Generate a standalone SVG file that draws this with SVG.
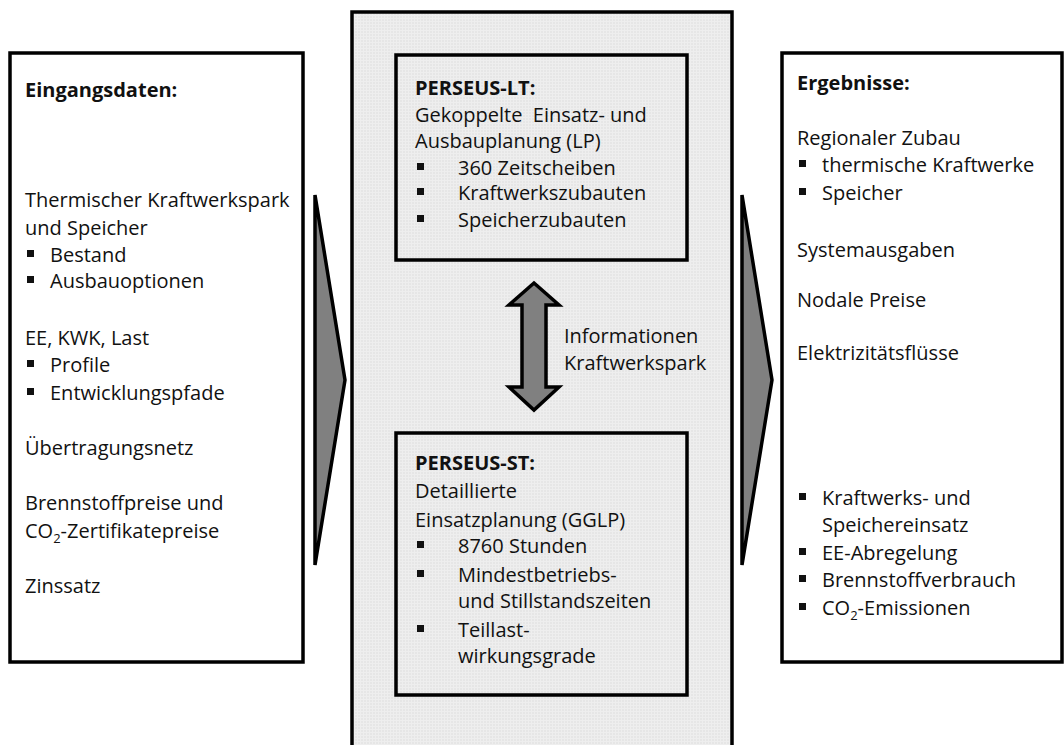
<svg xmlns="http://www.w3.org/2000/svg" width="1064" height="745" viewBox="0 0 1064 745">
<defs>
<pattern id="grid" width="3" height="3" patternUnits="userSpaceOnUse">
<rect width="3" height="3" fill="#e6e6e6"/>
<rect width="1" height="3" fill="#eeeeee"/>
<rect width="3" height="1" fill="#eeeeee"/>
</pattern>
<style>
text{font-family:"Open Sans","Liberation Sans",sans-serif;font-size:20px;fill:#111}
.b{font-weight:bold}
.box{fill:#fff;stroke:#000;stroke-width:3.5}
.inner{fill:url(#grid);stroke:#000;stroke-width:3.5}
.arr{fill:#808080;stroke:#000;stroke-width:3.5;stroke-linejoin:miter}
.sq{fill:#111}
.sub{font-size:13px}
</style>
</defs>
<g id="center">
<rect x="352" y="12" width="380" height="760" class="inner"/>
</g>
<g id="connectors">
<polygon class="arr" points="315,195 345,380 315,565"/>
<polygon class="arr" points="742,195 772,380 742,565"/>
<polygon class="arr" points="534,283 559,305 546,305 546,387 559,387 534,410 509,387 522,387 522,305 509,305"/>
</g>
<g id="info-label">
<text x="564" y="343">Informationen</text>
<text x="564" y="370">Kraftwerkspark</text>
</g>
<g id="eingangsdaten">
<rect x="10" y="53" width="293" height="609" class="box"/>
<text x="25" y="97" class="b">Eingangsdaten:</text>
<text x="25" y="207">Thermischer Kraftwerkspark</text>
<text x="25" y="235">und Speicher</text>
<rect class="sq" x="27" y="250" width="7" height="7"/>
<text x="50" y="262">Bestand</text>
<rect class="sq" x="27" y="276" width="7" height="7"/>
<text x="50" y="288">Ausbauoptionen</text>
<text x="25" y="345">EE, KWK, Last</text>
<rect class="sq" x="27" y="360" width="7" height="7"/>
<text x="50" y="372">Profile</text>
<rect class="sq" x="27" y="388" width="7" height="7"/>
<text x="50" y="400">Entwicklungspfade</text>
<text x="25" y="455">Übertragungsnetz</text>
<text x="25" y="510">Brennstoffpreise und</text>
<text x="25" y="538">CO<tspan class="sub" dy="5">2</tspan><tspan dy="-5">-Zertifikatepreise</tspan></text>
<text x="25" y="593">Zinssatz</text>
</g>
<g id="perseus-lt">
<rect x="396" y="55" width="291" height="205" class="inner"/>
<text x="415" y="95" class="b">PERSEUS-LT:</text>
<text x="415" y="122">Gekoppelte&#160; Einsatz- und</text>
<text x="415" y="148">Ausbauplanung (LP)</text>
<rect class="sq" x="417" y="163" width="7" height="7"/>
<text x="458" y="175">360 Zeitscheiben</text>
<rect class="sq" x="417" y="188" width="7" height="7"/>
<text x="458" y="200">Kraftwerkszubauten</text>
<rect class="sq" x="417" y="215" width="7" height="7"/>
<text x="458" y="227">Speicherzubauten</text>
</g>
<g id="perseus-st">
<rect x="396" y="433" width="291" height="262" class="inner"/>
<text x="415" y="470" class="b">PERSEUS-ST:</text>
<text x="415" y="498">Detaillierte</text>
<text x="415" y="527">Einsatzplanung (GGLP)</text>
<rect class="sq" x="417" y="541" width="7" height="7"/>
<text x="458" y="553">8760 Stunden</text>
<rect class="sq" x="417" y="570" width="7" height="7"/>
<text x="458" y="582">Mindestbetriebs-</text>
<text x="458" y="608">und Stillstandszeiten</text>
<rect class="sq" x="417" y="625" width="7" height="7"/>
<text x="458" y="637">Teillast-</text>
<text x="458" y="663">wirkungsgrade</text>
</g>
<g id="ergebnisse">
<rect x="782" y="53" width="280" height="609" class="box"/>
<text x="797" y="90" class="b">Ergebnisse:</text>
<text x="797" y="145">Regionaler Zubau</text>
<rect class="sq" x="799" y="160" width="7" height="7"/>
<text x="822" y="172">thermische Kraftwerke</text>
<rect class="sq" x="799" y="188" width="7" height="7"/>
<text x="822" y="200">Speicher</text>
<text x="797" y="257">Systemausgaben</text>
<text x="797" y="307">Nodale Preise</text>
<text x="797" y="360">Elektrizitätsflüsse</text>
<rect class="sq" x="799" y="493" width="7" height="7"/>
<text x="822" y="505">Kraftwerks- und</text>
<text x="822" y="532">Speichereinsatz</text>
<rect class="sq" x="799" y="548" width="7" height="7"/>
<text x="822" y="560">EE-Abregelung</text>
<rect class="sq" x="799" y="575" width="7" height="7"/>
<text x="822" y="587">Brennstoffverbrauch</text>
<rect class="sq" x="799" y="603" width="7" height="7"/>
<text x="822" y="615">CO<tspan class="sub" dy="5">2</tspan><tspan dy="-5">-Emissionen</tspan></text>
</g>
</svg>
